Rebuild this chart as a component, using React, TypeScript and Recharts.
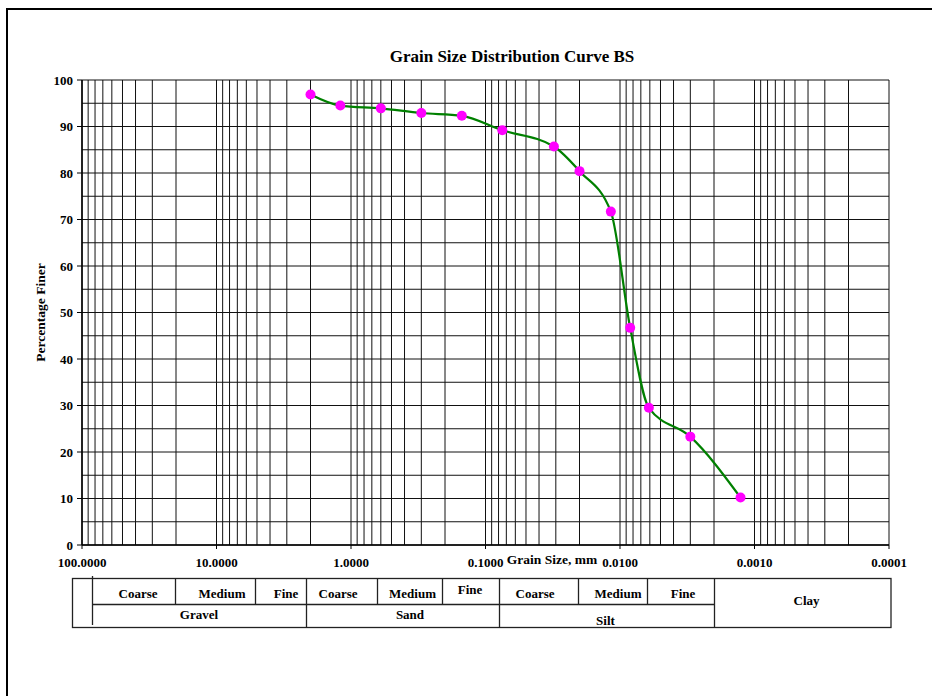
import React from 'react';
import { LineChart, Line, XAxis, YAxis, CartesianGrid } from 'recharts';

// Grain size (mm) and percentage finer
const grainSize = [2.0, 1.2, 0.6, 0.3, 0.15, 0.075, 0.031, 0.02, 0.0117, 0.0084, 0.0061, 0.003, 0.00127];
const percentFiner = [96.9, 94.5, 93.9, 92.9, 92.3, 89.2, 85.7, 80.4, 71.7, 46.7, 29.5, 23.3, 10.2];

const xTicks = [100, 10, 1, 0.1, 0.01, 0.001, 0.0001];
const yTicks = [0, 10, 20, 30, 40, 50, 60, 70, 80, 90, 100];
const yGrid = [0, 5, 10, 15, 20, 25, 30, 35, 40, 45, 50, 55, 60, 65, 70, 75, 80, 85, 90, 95, 100];
const decadeStarts = [0.0001, 0.001, 0.01, 0.1, 1, 10];
const minorMultipliers = [1, 2, 3, 4, 5, 6, 7, 8, 9];

const titleText = 'Grain Size Distribution Curve BS';
const xLabel = 'Grain Size, mm';
const yLabel = 'Percentage Finer';

const subLabels = ['Coarse', 'Medium', 'Fine', 'Coarse', 'Medium', 'Fine', 'Coarse', 'Medium', 'Fine'];
const mainLabels = ['Gravel', 'Sand', 'Silt', 'Clay'];

const data = grainSize.map((d, i) => ({ size: d, finer: percentFiner[i] }));
const xGrid: number[] = [];
decadeStarts.forEach((s) => minorMultipliers.forEach((m) => xGrid.push(Number((s * m).toPrecision(3)))));
xGrid.push(100);

const FONT = '"Liberation Serif", "Times New Roman", serif';

// Table layout (pixel positions for the classification table)
const subPos = [
  { x: 138, y: 593 }, { x: 222, y: 593 }, { x: 286, y: 593 },
  { x: 338, y: 593 }, { x: 412.5, y: 593 }, { x: 470, y: 589 },
  { x: 535, y: 593 }, { x: 618, y: 593 }, { x: 683, y: 593 },
];
const mainPos = [
  { x: 199, y: 614 }, { x: 410, y: 614 }, { x: 605.5, y: 620 }, { x: 806.5, y: 600 },
];

const Table = () => {
  const st = { stroke: '#222', strokeWidth: 1.3 };
  const top = 578.5, mid = 604.5, bot = 627.5;
  const topOnly = [175.5, 255.5, 377.5, 442.5, 578.5, 647.5];
  const full = [306.5, 499.5, 714.5];
  return (
    <g>
      <rect x={72.5} y={top} width={818.5} height={bot - top} fill="none" {...st} />
      <line x1={92.5} y1={576} x2={92.5} y2={625} {...st} />
      <line x1={92.5} y1={mid} x2={714.5} y2={mid} {...st} />
      {topOnly.map((x) => <line key={'t' + x} x1={x} y1={top} x2={x} y2={mid} {...st} />)}
      {full.map((x) => <line key={'f' + x} x1={x} y1={top} x2={x} y2={bot} {...st} />)}
      {subLabels.map((s, i) => (
        <text key={'s' + i} x={subPos[i].x} y={subPos[i].y} textAnchor="middle" dominantBaseline="central"
          fontSize={13} fontWeight="bold" fontFamily={FONT} fill="#000">{s}</text>
      ))}
      {mainLabels.map((s, i) => (
        <text key={'m' + i} x={mainPos[i].x} y={mainPos[i].y} textAnchor="middle" dominantBaseline="central"
          fontSize={13} fontWeight="bold" fontFamily={FONT} fill="#000">{s}</text>
      ))}
    </g>
  );
};

export default function App() {
  const tickStyle = { fontSize: 13, fontWeight: 'bold', fill: '#000', fontFamily: FONT };
  return (
    <div style={{ position: 'absolute', left: 0, top: 0, width: 932, height: 696, background: '#fff', fontFamily: FONT, overflow: 'hidden' }}>
      <div style={{ position: 'absolute', left: 6, top: 8, width: 940, height: 700, borderLeft: '2px solid #000', borderTop: '2px solid #000' }} />
      <div style={{ position: 'absolute', left: 0, top: 0 }}>
        <LineChart width={932} height={696} data={data} margin={{ top: 80, right: 43, bottom: 121, left: 0 }}>
          <CartesianGrid stroke="#111" strokeWidth={1} verticalValues={xGrid} horizontalValues={yGrid} />
          <XAxis
            dataKey="size"
            type="number"
            scale="log"
            domain={[0.0001, 100]}
            reversed
            allowDataOverflow
            ticks={xTicks}
            interval={0}
            tickFormatter={(v: number) => v.toFixed(4)}
            tick={tickStyle}
            tickSize={4}
            tickMargin={9}
            height={30}
            axisLine={{ stroke: '#000', strokeWidth: 1.5 }}
            tickLine={{ stroke: '#000' }}
          />
          <YAxis
            type="number"
            domain={[0, 100]}
            ticks={yTicks}
            interval={0}
            width={82}
            tick={tickStyle}
            tickSize={5}
            tickMargin={4}
            axisLine={{ stroke: '#000', strokeWidth: 1.5 }}
            tickLine={{ stroke: '#000' }}
            label={{ value: yLabel, angle: -90, position: 'center', dx: -1, style: { fontSize: 13.5, fontWeight: 'bold', fill: '#000', fontFamily: FONT } }}
          />
          <Line
            type="monotone"
            dataKey="finer"
            stroke="#008000"
            strokeWidth={2.2}
            dot={{ r: 5, fill: '#ff00ff', stroke: 'none' }}
            activeDot={false}
            isAnimationActive={false}
          />
        </LineChart>
      </div>
      <svg width={932} height={696} style={{ position: 'absolute', left: 0, top: 0, pointerEvents: 'none' }}>
        <text x={512} y={56} textAnchor="middle" dominantBaseline="central" fontSize={17} fontWeight="bold" fontFamily={FONT} fill="#000">{titleText}</text>
        <text x={552} y={559} textAnchor="middle" dominantBaseline="central" fontSize={13.5} fontWeight="bold" fontFamily={FONT} fill="#000">{xLabel}</text>
        <Table />
      </svg>
    </div>
  );
}
